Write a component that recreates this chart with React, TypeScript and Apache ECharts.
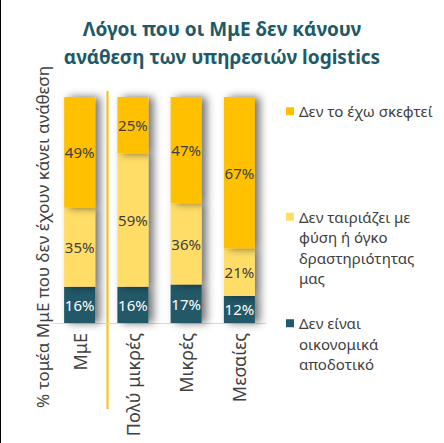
import React, { useEffect, useRef } from "react";
import * as echarts from "echarts";

const categories = ["ΜμΕ", "Πολύ μικρές", "Μικρές", "Μεσαίες"];
const seriesNames = [
  "Δεν είναι οικονομικά αποδοτικό",
  "Δεν ταιριάζει με φύση ή όγκο δραστηριότητας μας",
  "Δεν το έχω σκεφτεί",
];
const notEfficient = [16, 16, 17, 12];
const notFitting = [35, 59, 36, 21];
const notThought = [49, 25, 47, 67];
const legendLines = [
  ["Δεν είναι", "οικονομικά", "αποδοτικό"],
  ["Δεν ταιριάζει με", "φύση ή όγκο", "δραστηριότητας", "μας"],
  ["Δεν το έχω σκεφτεί"],
];
const titleText = "Λόγοι που οι ΜμΕ δεν κάνουν\nανάθεση των υπηρεσιών logistics";
const yAxisTitle = "% τομέα ΜμΕ που δεν έχουν κάνει ανάθεση";

const colors = ["#215968", "#FFDD66", "#FFC000"];
const FONT = "Noto Sans";
const LH = 20.5;

export default function App() {
  const ref = useRef<HTMLDivElement>(null);
  useEffect(() => {
    if (!ref.current) return;
    const chart = echarts.init(ref.current, undefined, { renderer: "svg" });
    const values = [notEfficient, notFitting, notThought];
    const labelColors = ["#ffffff", "#404040", "#404040"];
    const legendTops = [272, 145, 101];
    const series = values.map((v, i) => ({
      name: seriesNames[i],
      type: "bar",
      stack: "total",
      data: v,
      barWidth: 31,
      itemStyle: {
        color: colors[i],
        shadowColor: "rgba(0,0,0,0.55)",
        shadowBlur: 8,
        shadowOffsetX: 5,
      },
      label: {
        show: true,
        position: "inside",
        formatter: "{c}%",
        color: labelColors[i],
        fontFamily: FONT,
        fontSize: 15,
      },
    }));
    const legends = values.map((_, i) => {
      const n = legendLines[i].length;
      const pad = new Array(n - 1).fill("").map(() => "\n").join("");
      return {
        show: true,
        data: [seriesNames[i]],
        orient: "vertical",
        left: 286,
        top: legendTops[i],
        padding: 0,
        itemWidth: 8,
        itemHeight: 8,
        itemGap: 5,
        icon: "rect",
        formatter: () => pad + legendLines[i].join("\n"),
        textStyle: {
          color: "#404040",
          fontFamily: FONT,
          fontSize: 15,
          lineHeight: LH,
        },
        selectedMode: false,
      };
    });
    chart.setOption({
      animation: false,
      backgroundColor: "#ffffff",
      title: {
        text: titleText,
        left: "center",
        top: 10,
        textStyle: {
          color: "#215968",
          fontFamily: FONT,
          fontSize: 19,
          fontWeight: "bold",
          lineHeight: 28,
        },
      },
      legend: legends,
      grid: { left: 53, right: 178, top: 97, bottom: 120 },
      xAxis: {
        type: "category",
        data: categories,
        axisLine: { show: true, lineStyle: { color: "#D9D9D9", width: 1 } },
        axisTick: { show: false },
        axisLabel: {
          rotate: 90,
          margin: 10,
          color: "#404040",
          fontFamily: FONT,
          fontSize: 18,
        },
      },
      yAxis: {
        type: "value",
        min: 0,
        max: 100,
        show: false,
      },
      series,
      graphic: [
        {
          type: "rect",
          shape: { x: 0, y: 0, width: 1, height: 443 },
          style: { fill: "#000000" },
        },
        {
          type: "line",
          shape: { x1: 107.5, y1: 91, x2: 107.5, y2: 409 },
          style: { stroke: "#FFC000", lineWidth: 2 },
        },
        {
          type: "text",
          x: 42,
          y: 237,
          rotation: Math.PI / 2,
          style: {
            text: yAxisTitle,
            fill: "#404040",
            font: `17px "${FONT}"`,
            align: "center",
            verticalAlign: "middle",
          },
        },
      ],
    });
    return () => chart.dispose();
  }, []);
  return (
    <div
      ref={ref}
      style={{ position: "absolute", left: 0, top: 0, width: 444, height: 443 }}
    />
  );
}
